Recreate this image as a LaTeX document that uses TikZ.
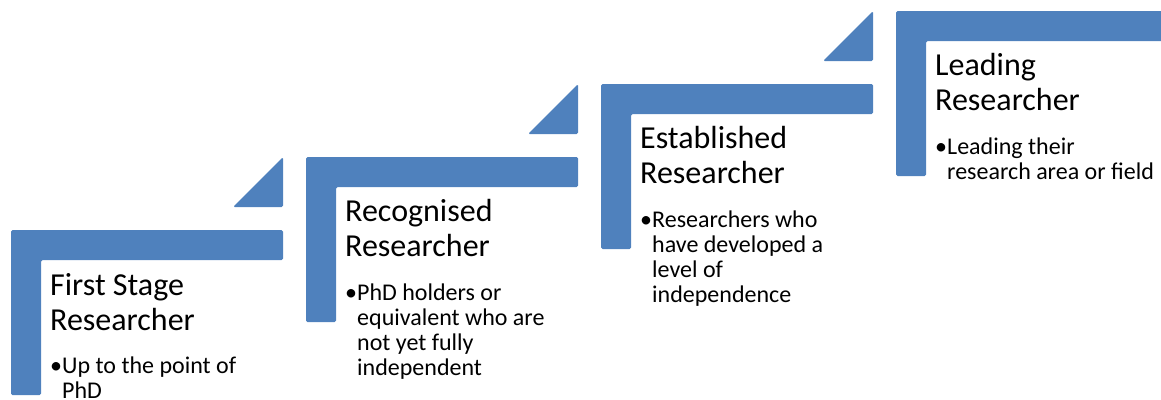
\documentclass[tikz,border=0pt]{standalone}
\usepackage{fontspec}
\setmainfont{Carlito}
\definecolor{stepblue}{HTML}{4F81BD}
\tikzset{
  stepshape/.style={fill=stepblue, draw=none, rounded corners=1.5pt},
  titletext/.style={anchor=base west, inner sep=0pt, font=\fontsize{32}{35}\selectfont},
  bullettext/.style={anchor=base west, inner sep=0pt, font=\fontsize{24}{25}\selectfont},
}
\newcommand{\bul}{\makebox[12pt][l]{•}}
\newcommand{\ind}{\hspace*{12pt}}
\begin{document}
\begin{tikzpicture}[x=1pt,y=-1pt]
\useasboundingbox (0,0) rectangle (1161,399);
\begin{scope}
\clip (0,0) rectangle (1161,399);
\foreach \i in {0,1,2,3} {
  \pgfmathsetmacro{\dx}{295*\i}
  \pgfmathsetmacro{\dy}{-73*\i}
  \begin{scope}[shift={(\dx,\dy)}]
    \fill[stepshape] (11,230) -- (283,230) -- (283,260) -- (41,260) -- (41,395) -- (11,395) -- cycle;
    \ifnum\i<3
      \fill[stepshape] (233,207) -- (283,207) -- (283,157) -- cycle;
    \fi
  \end{scope}
}
\end{scope}
% titles
\node[titletext] (t1) at (50,295) {\vtop{\hbox{First Stage}\hbox{Researcher}}};
\node[titletext] (t2) at (345,221) {\vtop{\hbox{Recognised}\hbox{Researcher}}};
\node[titletext] (t3) at (640,148) {\vtop{\hbox{Established}\hbox{Researcher}}};
\node[titletext] (t4) at (935,75) {\vtop{\hbox{Leading}\hbox{Researcher}}};
% bullets
\node[bullettext] (b1) at (50,373) {\vtop{\hbox{\bul Up to the point of}\hbox{\ind PhD}}};
\node[bullettext] (b2) at (345,300) {\vtop{\hbox{\bul PhD holders or}\hbox{\ind equivalent who are}\hbox{\ind not yet fully}\hbox{\ind independent}}};
\node[bullettext] (b3) at (640,227) {\vtop{\hbox{\bul Researchers who}\hbox{\ind have developed a}\hbox{\ind level of}\hbox{\ind independence}}};
\node[bullettext] (b4) at (935,154) {\vtop{\hbox{\bul Leading their}\hbox{\ind research area or field}}};
\end{tikzpicture}
\end{document}
